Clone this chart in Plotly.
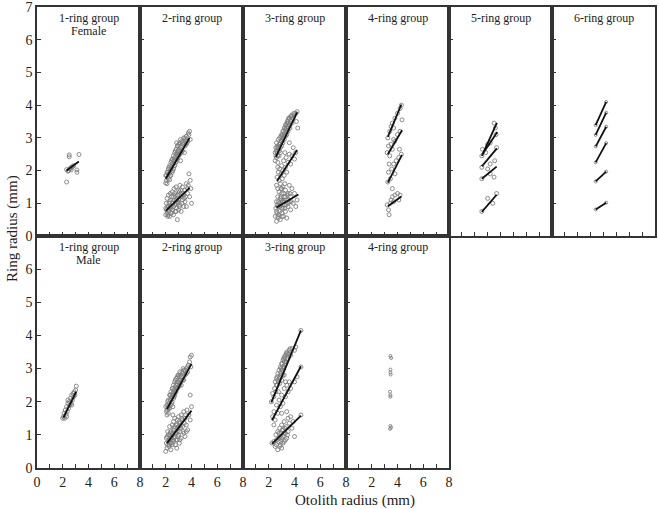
import plotly.graph_objects as go

# ---------------- data ----------------
# Female panels: observed (otolith radius, ring radius) points
f1_pts = [(2.3,1.65),(2.5,2.48),(2.5,2.42),(3.26,2.49),(3.1,2.02),(3.1,1.95),(2.3,2.03),
          (2.45,2.0),(2.55,2.05),(2.6,2.08),(2.7,2.1),(2.75,2.12),(2.85,2.15),(2.4,1.98),(2.65,2.02)]
f1_lines = [(2.3,3.25,2.0,2.28)]

f2_pts = [(2.0,1.62),(2.0,1.85),(2.05,1.7),(2.1,1.95),(2.1,1.6),(2.15,1.8),(2.2,2.05),(2.2,1.75),(2.25,1.9),
          (2.3,2.15),(2.3,1.72),(2.35,2.0),(2.4,2.25),(2.4,1.85),(2.45,2.1),(2.5,2.35),(2.5,1.95),(2.55,2.2),
          (2.6,2.45),(2.6,2.05),(2.65,2.3),(2.7,2.55),(2.7,2.15),(2.75,2.4),(2.8,2.65),(2.8,2.25),(2.85,2.5),
          (2.9,2.75),(2.9,2.35),(2.95,2.6),(3.0,2.8),(3.0,2.45),(3.05,2.65),(3.1,2.85),(3.1,2.5),(3.2,2.7),
          (3.25,2.9),(3.3,2.6),(3.35,2.8),(3.4,3.0),(3.5,2.75),(3.55,2.95),(3.6,3.05),(3.7,2.9),(3.8,3.1),
          (3.85,3.2),(3.9,2.95),(3.75,3.15),(2.85,2.85),(3.15,2.3),(3.45,2.55),
          (2.05,1.85),(2.15,1.95),(2.25,2.1),(2.35,1.85),(2.45,2.3),(2.55,2.0),(2.6,2.3),(2.65,2.15),
          (2.75,2.6),(2.75,2.25),(2.85,2.35),(2.95,2.45),(2.95,2.75),(3.05,2.5),(3.15,2.75),(3.15,2.95),
          (3.25,2.6),(3.3,2.85),(3.45,2.85),(3.5,3.0),(3.65,2.85),(2.4,2.05),(2.7,2.4),(3.0,2.6),(3.2,2.55),
          (2.2,1.9),(2.9,2.55),(3.6,2.8),
          (2.0,0.65),(2.0,0.85),(2.05,1.0),(2.1,0.7),(2.1,1.15),(2.15,0.6),(2.2,0.9),(2.2,1.25),(2.25,0.75),
          (2.3,1.05),(2.3,0.6),(2.35,1.3),(2.4,0.85),(2.4,1.1),(2.45,0.7),(2.5,1.0),(2.5,1.35),(2.55,0.8),
          (2.6,1.2),(2.6,0.65),(2.65,1.45),(2.7,0.95),(2.7,1.3),(2.75,0.75),(2.8,1.1),(2.8,1.5),(2.85,0.85),
          (2.9,1.25),(2.9,0.5),(2.95,1.0),(3.0,1.4),(3.0,0.8),(3.05,1.15),(3.1,1.55),(3.1,0.95),(3.2,1.3),
          (3.2,0.75),(3.3,1.1),(3.3,1.5),(3.4,1.25),(3.4,0.9),(3.5,1.4),(3.5,1.05),(3.6,1.6),(3.6,0.9),
          (3.7,1.3),(3.75,1.55),(3.8,1.9),(3.85,1.2),(3.9,1.7),(4.0,1.0),(3.95,1.45),
          (2.05,0.8),(2.15,0.9),(2.25,1.0),(2.35,0.9),(2.45,1.2),(2.55,1.0),(2.6,0.9),(2.65,1.1),(2.75,1.0),
          (2.75,1.25),(2.85,1.1),(2.95,1.25),(3.05,0.9),(3.05,1.35),(3.15,1.2),(3.25,1.0),(3.35,1.3),
          (3.45,1.15),(2.5,0.8),(2.4,0.7),(2.8,0.75),(3.0,1.1),(3.15,1.4),(3.55,1.2),(2.3,0.85),(2.9,1.05),
          (3.7,1.45),(2.2,0.65)]
f2_lines = [(2.0,3.85,1.75,3.0),(2.0,3.85,0.77,1.47)]

f3_pts = [(2.5,2.3),(2.5,2.55),(2.55,2.7),(2.6,2.4),(2.6,2.85),(2.65,2.55),(2.7,2.75),(2.7,2.45),(2.75,2.95),
          (2.8,2.6),(2.8,2.8),(2.85,3.0),(2.9,2.7),(2.9,2.55),(2.95,2.9),(3.0,3.1),(3.0,2.75),(3.05,2.95),
          (3.1,3.2),(3.1,2.85),(3.15,3.05),(3.2,3.3),(3.2,2.95),(3.25,3.15),(3.3,3.4),(3.3,3.05),(3.35,3.25),
          (3.4,3.45),(3.4,3.1),(3.45,3.35),(3.5,3.55),(3.5,3.2),(3.55,3.4),(3.6,3.6),(3.65,3.3),(3.7,3.5),
          (3.75,3.65),(3.8,3.45),(3.9,3.6),(4.0,3.7),(4.1,3.75),(4.2,3.8),(4.15,3.5),(4.25,3.3),(3.6,2.85),(2.7,2.25),
          (2.55,2.45),(2.65,2.7),(2.75,2.7),(2.85,2.8),(2.95,3.05),(3.05,3.1),(3.15,3.2),(3.25,3.3),(3.35,3.4),
          (3.45,3.5),(3.55,3.6),(3.6,3.4),(3.7,3.65),(2.8,2.45),(2.9,2.85),(3.0,2.9),(3.1,3.0),(3.2,3.1),
          (3.3,3.25),(3.4,3.3),(3.5,3.45),(3.8,3.7),(3.95,3.75),(2.6,2.6),
          (2.6,1.55),(2.65,1.8),(2.7,1.45),(2.75,1.95),(2.8,1.7),(2.85,2.05),(2.9,1.6),(2.95,1.9),(3.0,2.15),
          (3.05,1.75),(3.1,2.0),(3.15,2.3),(3.2,1.85),(3.3,2.1),(3.35,2.4),(3.4,1.95),(3.5,2.25),(3.6,2.5),
          (3.7,2.2),(3.8,2.45),(3.9,2.7),(4.0,2.35),(4.1,2.55),(2.7,2.1),(3.25,2.55),(3.0,1.45),
          (2.5,0.6),(2.55,0.85),(2.6,1.05),(2.6,0.45),(2.65,0.7),(2.7,1.2),(2.7,0.9),(2.75,0.55),(2.8,1.0),
          (2.8,1.35),(2.85,0.75),(2.9,1.15),(2.9,0.5),(2.95,0.95),(3.0,1.3),(3.0,0.7),(3.05,1.05),(3.1,1.5),
          (3.1,0.85),(3.15,0.6),(3.2,1.2),(3.2,0.95),(3.3,1.4),(3.3,0.75),(3.4,1.1),(3.4,0.55),(3.5,1.3),
          (3.5,0.9),(3.6,1.55),(3.6,1.05),(3.7,1.2),(3.7,0.8),(3.8,1.45),(3.9,1.0),(4.0,1.3),(4.1,0.9),
          (4.2,1.1),(3.25,1.6),(2.95,1.45),
          (2.6,0.75),(2.7,0.6),(2.75,1.05),(2.85,0.9),(2.95,1.2),(3.0,0.85),(3.05,0.6),(3.1,1.05),(3.15,1.3),
          (3.25,0.85),(3.3,1.2),(3.35,0.95),(3.45,1.25),(3.55,1.1),(3.65,1.3),(2.8,0.65),(2.9,0.95),(3.2,1.05),
          (3.5,1.0),(2.65,0.95),(3.75,1.05),(3.0,1.1)]
f3_lines = [(2.55,4.2,2.42,3.78),(2.65,4.2,1.68,2.63),(2.6,4.3,0.87,1.27)]

f4_pts = [(3.25,3.0),(3.4,3.2),(3.5,3.35),(3.6,3.45),(3.7,3.3),(3.8,3.6),(4.0,3.75),(4.2,3.9),(4.3,4.0),(4.35,3.55),
          (3.2,2.55),(3.3,2.75),(3.4,2.45),(3.5,2.8),(3.6,2.65),(3.7,2.95),(3.8,2.9),(4.0,3.1),(4.2,3.2),(3.35,2.2),(4.15,2.65),
          (3.25,1.65),(3.3,1.95),(3.45,1.75),(3.55,2.05),(3.7,2.2),(3.9,2.3),(4.1,2.4),(4.3,2.5),(3.6,1.45),(3.8,1.9),
          (3.2,0.95),(3.3,0.8),(3.35,0.65),(3.45,1.0),(3.5,1.1),(3.7,1.05),(3.8,1.25),(4.0,1.3),(4.2,1.25),(3.6,1.2),(4.1,1.1)]
f4_lines = [(3.25,4.3,3.03,4.02),(3.25,4.35,2.5,3.23),(3.25,4.35,1.63,2.48),(3.25,4.3,0.91,1.21)]

f5_pts = [(2.55,2.45),(2.6,2.65),(2.85,2.55),(3.5,3.45),(3.6,3.3),(3.65,3.1),(3.0,2.8),(3.2,2.85),
          (2.55,2.1),(3.2,2.2),(3.7,2.7),(3.55,2.3),
          (2.55,1.75),(3.0,2.05),(3.2,1.9),(3.5,1.8),
          (2.55,0.75),(3.0,1.15),(3.7,1.3),(3.4,1.0)]
f5_lines = [(2.55,3.72,2.45,3.46),(2.6,3.75,2.5,3.18),(2.55,3.72,2.13,2.68),(2.55,3.7,1.75,2.12),(2.55,3.7,0.74,1.26)]

f6_pts = [(3.39,3.39),(4.21,4.1),(3.39,3.09),(4.21,3.77),(3.4,2.74),(4.21,3.34),
          (3.39,2.25),(4.21,2.84),(3.39,1.67),(4.21,1.97),(3.39,0.81),(4.21,1.02)]
f6_lines = [(3.39,4.21,3.39,4.1),(3.39,4.21,3.09,3.77),(3.4,4.21,2.74,3.34),
            (3.39,4.21,2.25,2.84),(3.39,4.21,1.67,1.97),(3.39,4.21,0.81,1.02)]

# Male panels
m1_pts = [(2.0,1.5),(2.05,1.55),(2.1,1.65),(2.15,1.5),(2.2,1.75),(2.25,1.62),(2.3,1.85),(2.35,1.7),(2.4,1.95),
          (2.45,1.8),(2.5,2.0),(2.55,1.9),(2.6,2.1),(2.65,1.95),(2.7,2.2),(2.75,2.05),(2.8,2.25),(2.85,2.15),
          (2.9,2.3),(2.95,2.2),(3.0,2.35),(3.05,2.47),(2.4,2.05),(2.7,1.9),(2.3,1.55)]
m1_lines = [(2.05,3.05,1.52,2.3)]

m2_pts = [(2.05,1.7),(2.1,1.9),(2.1,1.6),(2.15,1.8),(2.2,2.05),(2.2,1.65),(2.25,1.95),(2.3,2.2),(2.3,1.8),
          (2.35,2.05),(2.4,2.3),(2.4,1.9),(2.45,2.15),(2.5,2.4),(2.5,2.0),(2.55,2.25),(2.6,2.5),(2.6,2.1),
          (2.65,2.35),(2.7,2.6),(2.7,2.2),(2.75,2.45),(2.8,2.7),(2.8,2.3),(2.85,2.55),(2.9,2.75),(2.9,2.4),
          (2.95,2.6),(3.0,2.8),(3.0,2.45),(3.1,2.65),(3.1,2.9),(3.2,2.75),(3.2,2.5),(3.3,2.85),(3.4,2.95),
          (3.4,2.65),(3.5,2.8),(3.6,3.0),(3.7,2.9),(3.75,3.1),(3.85,3.2),(3.9,3.35),(4.0,3.4),(3.95,3.05),
          (2.0,1.85),(2.55,1.85),
          (2.1,1.75),(2.15,2.0),(2.25,1.8),(2.35,2.2),(2.45,1.95),(2.55,2.4),(2.6,2.3),(2.65,2.15),(2.75,2.65),
          (2.75,2.3),(2.85,2.4),(2.9,2.6),(2.95,2.8),(3.0,2.6),(3.05,2.75),(3.15,2.8),(3.25,2.9),(3.3,2.65),
          (3.35,3.0),(3.5,2.95),(3.6,2.85),(3.7,3.05),(2.4,2.1),(2.8,2.5),(3.1,2.5),(2.5,2.2),(2.2,1.85),
          (2.0,0.5),(2.05,0.75),(2.1,0.95),(2.1,0.6),(2.15,1.1),(2.2,0.8),(2.25,0.65),(2.3,1.0),(2.3,1.25),
          (2.35,0.75),(2.4,1.1),(2.4,0.55),(2.45,0.9),(2.5,1.3),(2.5,0.7),(2.55,1.05),(2.6,1.4),(2.6,0.8),
          (2.65,1.2),(2.7,0.95),(2.7,1.5),(2.75,0.7),(2.8,1.3),(2.8,1.05),(2.85,0.6),(2.9,1.45),(2.9,0.85),
          (2.95,1.2),(3.0,1.55),(3.0,1.0),(3.05,0.75),(3.1,1.35),(3.1,1.1),(3.2,1.6),(3.2,0.9),(3.3,1.25),
          (3.3,1.45),(3.4,1.7),(3.4,1.05),(3.5,1.5),(3.5,0.95),(3.6,1.3),(3.65,1.75),(3.7,1.15),(3.8,1.6),
          (3.9,1.45),(4.0,1.85),(3.9,2.2),(2.55,1.6),
          (2.05,0.9),(2.15,0.7),(2.2,1.0),(2.25,0.85),(2.35,1.05),(2.45,0.75),(2.5,1.0),(2.55,0.85),(2.6,1.15),
          (2.65,0.9),(2.7,1.25),(2.75,1.05),(2.8,0.85),(2.85,1.3),(2.9,1.1),(2.95,0.95),(3.0,1.25),(3.05,1.4),
          (3.1,0.85),(3.15,1.2),(3.25,1.5),(3.35,1.1),(3.45,1.35),(3.55,1.6),(3.6,1.1),(2.4,0.9),(2.3,0.7),(3.2,1.3)]
m2_lines = [(2.1,4.0,1.78,3.14),(2.1,4.0,0.75,1.73)]

m3_pts = [(2.2,2.0),(2.3,2.25),(2.4,2.15),(2.45,2.4),(2.5,2.6),(2.55,2.3),(2.6,2.7),(2.65,2.5),(2.7,2.85),
          (2.75,2.6),(2.8,2.95),(2.85,2.75),(2.9,3.05),(2.95,2.8),(3.0,3.15),(3.0,2.65),(3.05,2.95),(3.1,3.25),
          (3.15,3.0),(3.2,3.35),(3.25,3.1),(3.3,3.4),(3.35,3.2),(3.4,3.5),(3.5,3.3),(3.6,3.55),(3.7,3.4),
          (3.8,3.6),(4.0,3.55),(4.1,3.65),(4.5,4.15),(3.2,2.8),(2.75,2.3),
          (2.6,2.5),(2.7,2.65),(2.8,2.7),(2.9,2.85),(3.0,2.95),(3.05,3.15),(3.1,3.05),(3.15,3.3),(3.25,3.3),
          (3.3,3.15),(3.4,3.3),(3.45,3.45),(3.55,3.45),(2.85,2.55),(2.95,3.0),(3.2,3.2),(3.35,3.45),(2.65,2.75),
          (3.1,2.8),(3.65,3.6),
          (2.3,1.55),(2.4,1.7),(2.5,1.45),(2.6,1.9),(2.7,1.65),(2.8,2.05),(2.9,1.85),(3.0,2.2),(3.1,1.95),
          (3.2,2.4),(3.3,2.15),(3.4,2.5),(3.5,2.3),(3.6,2.6),(3.7,2.4),(4.0,2.6),(4.2,2.75),(2.4,1.3),
          (3.3,2.6),(4.5,3.05),
          (2.25,0.75),(2.4,0.8),(2.5,0.65),(2.55,1.0),(2.6,0.85),(2.7,0.55),(2.7,1.1),(2.8,0.9),(2.85,1.2),
          (2.9,0.7),(2.95,1.05),(3.0,0.6),(3.0,1.3),(3.1,0.95),(3.1,1.15),(3.2,0.8),(3.2,1.4),(3.3,1.05),
          (3.35,1.25),(3.4,0.9),(3.5,1.5),(3.5,1.1),(3.6,1.35),(3.7,1.55),(3.8,1.2),(3.9,1.4),(4.0,0.95),
          (4.5,1.6),(3.4,1.7),(3.0,1.65),
          (2.6,0.7),(2.75,0.8),(2.8,1.05),(2.9,0.95),(2.95,0.8),(3.05,1.15),(3.1,0.75),(3.15,1.05),(3.25,1.2),
          (3.3,0.85),(3.45,1.0),(2.85,0.65),(3.0,0.9)]
m3_lines = [(2.2,4.5,1.98,4.15),(2.25,4.5,1.44,3.07),(2.25,4.5,0.73,1.58)]

m4_pts = [(3.45,3.38),(3.5,3.32),(3.45,2.97),(3.45,2.88),(3.47,2.82),(3.42,2.3),(3.45,2.2),
          (3.45,2.15),(3.45,1.27),(3.5,1.22),(3.42,1.18)]
m4_lines = []

panel_titles = ["1-ring group", "2-ring group", "3-ring group", "4-ring group", "5-ring group", "6-ring group",
                "1-ring group", "2-ring group", "3-ring group", "4-ring group"]
sex_labels = ["Female", "Male"]
x_tick_vals = [0, 1, 2, 3, 4, 5, 6, 7, 8]
y_tick_vals = [0, 1, 2, 3, 4, 5, 6, 7]

# ---------------- figure ----------------
W, H = 659, 509
ml, mr, mt, mb = 37, 4, 7, 41
pw = W - ml - mr
ph = H - mt - mb
split = 232 / ph

panels = [
    (0, 0, f1_pts, f1_lines, 4), (0, 1, f2_pts, f2_lines, 4), (0, 2, f3_pts, f3_lines, 4),
    (0, 3, f4_pts, f4_lines, 4), (0, 4, f5_pts, f5_lines, 4), (0, 5, f6_pts, f6_lines, 3),
    (1, 0, m1_pts, m1_lines, 4), (1, 1, m2_pts, m2_lines, 4), (1, 2, m3_pts, m3_lines, 4),
    (1, 3, m4_pts, m4_lines, 3),
]

fig = go.Figure()
layout = {}
annotations = []
font_family = "Liberation Serif, Times New Roman, serif"
axcol = "#333333"
row_top_px = [mt, H - mb - 232]

for i, (row, col, pts, lines, msize) in enumerate(panels):
    n = i + 1
    xa = "x" if n == 1 else f"x{n}"
    ya = "y" if n == 1 else f"y{n}"
    xk = "xaxis" if n == 1 else f"xaxis{n}"
    yk = "yaxis" if n == 1 else f"yaxis{n}"
    xd = [col / 6, (col + 1) / 6]
    yd = [split, 1] if row == 0 else [0, split]

    fig.add_trace(go.Scatter(
        x=[p[0] for p in pts], y=[p[1] for p in pts], mode="markers",
        marker=dict(symbol="circle-open", size=msize, color="#808080", line=dict(width=0.9, color="#808080")),
        xaxis=xa, yaxis=ya, showlegend=False, hoverinfo="skip"))
    for (x0, x1, y0, y1) in lines:
        fig.add_trace(go.Scatter(
            x=[x0, x1], y=[y0, y1], mode="lines", line=dict(color="#111111", width=1.8),
            xaxis=xa, yaxis=ya, showlegend=False, hoverinfo="skip"))

    if row == 1:
        xt = [("" if (v % 2 == 1 or (v == 0 and col > 0)) else str(v)) for v in x_tick_vals]
    else:
        xt = ["" for v in x_tick_vals]
    if col == 0:
        yt = [str(v) for v in y_tick_vals]
        if row == 1:
            yt[-1] = ""
    else:
        yt = ["" for v in y_tick_vals]

    layout[xk] = dict(domain=xd, anchor=ya, range=[0, 8], tickmode="array", tickvals=x_tick_vals,
                      ticktext=xt, ticks="inside", ticklen=4, tickwidth=1, tickcolor=axcol,
                      showline=True, mirror=True, linecolor=axcol, linewidth=1.5,
                      showgrid=False, zeroline=False, ticklabeloverflow="allow", automargin=False,
                      tickfont=dict(family=font_family, size=14, color="#222"))
    layout[yk] = dict(domain=yd, anchor=xa, range=[0, 7], tickmode="array", tickvals=y_tick_vals,
                      ticktext=yt, ticks="inside", ticklen=4, tickwidth=1, tickcolor=axcol,
                      showline=True, mirror=True, linecolor=axcol, linewidth=1.5,
                      showgrid=False, zeroline=False, ticklabeloverflow="allow", automargin=False,
                      tickfont=dict(family=font_family, size=14, color="#222"))

    top_px = row_top_px[row]
    cx = (col + 0.5) / 6
    ty = (H - mb - (top_px + 10.5)) / ph
    annotations.append(dict(text=panel_titles[i], x=cx, y=ty, xref="paper", yref="paper",
                            xanchor="center", yanchor="middle", showarrow=False,
                            font=dict(family=font_family, size=12, color="#222")))
    if col == 0:
        sy = (H - mb - (top_px + 24)) / ph
        annotations.append(dict(text=sex_labels[row], x=cx, y=sy, xref="paper", yref="paper",
                                xanchor="center", yanchor="middle", showarrow=False,
                                font=dict(family=font_family, size=12, color="#222")))

annotations.append(dict(text="Otolith radius (mm)", x=(355 - ml) / pw, y=(H - mb - 500) / ph,
                        xref="paper", yref="paper", xanchor="center", yanchor="middle", showarrow=False,
                        font=dict(family=font_family, size=15, color="#222")))
annotations.append(dict(text="Ring radius (mm)", x=(12 - ml) / pw, y=(H - mb - 229) / ph,
                        xref="paper", yref="paper", xanchor="center", yanchor="middle", showarrow=False,
                        textangle=-90, font=dict(family=font_family, size=15, color="#222")))

fig.update_layout(**layout)
fig.update_layout(width=W, height=H, margin=dict(l=ml, r=mr, t=mt, b=mb, autoexpand=False),
                  paper_bgcolor="white", plot_bgcolor="white", annotations=annotations,
                  showlegend=False)
fig.write_html("out.html")
